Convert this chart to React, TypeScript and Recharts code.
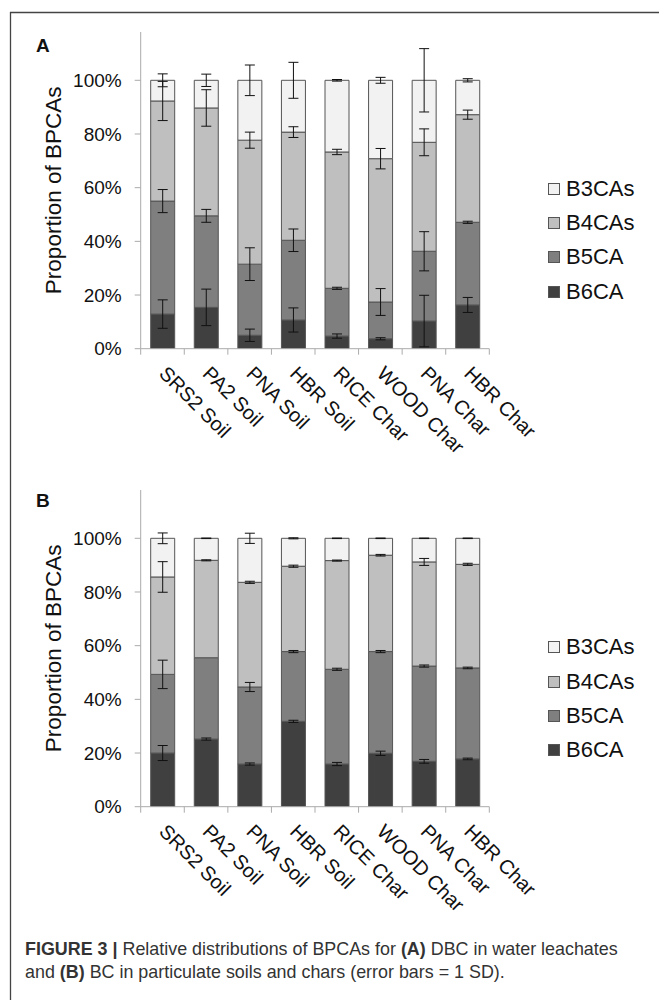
import React from 'react';
import { BarChart, Bar, XAxis, YAxis, ErrorBar, Legend, Label } from 'recharts';

// ---------- data ----------
const categories = ['SRS2 Soil', 'PA2 Soil', 'PNA Soil', 'HBR Soil', 'RICE Char', 'WOOD Char', 'PNA Char', 'HBR Char'];

// Panel A: DBC in water leachates (% of total BPCAs)
const aB6CA = [12.9, 15.4, 5.0, 10.7, 4.7, 3.7, 10.3, 16.3];
const aB5CA = [42.1, 34.1, 26.5, 29.7, 17.8, 13.7, 26.0, 30.8];
const aB4CAs = [37.3, 40.2, 46.2, 40.3, 50.8, 53.4, 40.6, 40.1];
const aB3CAs = [7.7, 10.3, 22.3, 19.3, 26.7, 29.2, 23.1, 12.8];
const aErrB6CA = [5.3, 6.8, 2.3, 4.5, 0.8, 0.4, 9.6, 2.8];
const aErrB5CA = [4.3, 2.4, 6.1, 4.2, 0.4, 5.0, 7.3, 0.4];
const aErrB4CAs = [7.3, 6.8, 3.0, 2.0, 1.0, 3.8, 5.0, 1.7];
const aErrB3CAs = [2.4, 2.3, 5.7, 6.7, 0.3, 1.1, 11.8, 0.6];

// Panel B: BC in particulate soils and chars
const bB6CA = [20.0, 25.2, 15.9, 31.8, 15.9, 19.9, 16.9, 17.8];
const bB5CA = [29.3, 30.3, 28.7, 26.0, 35.3, 37.9, 35.5, 33.9];
const bB4CAs = [36.3, 36.3, 39.0, 31.8, 40.5, 35.9, 38.8, 38.6];
const bB3CAs = [14.4, 8.2, 16.4, 10.4, 8.3, 6.3, 8.8, 9.7];
const bErrB6CA = [2.8, 0.4, 0.4, 0.4, 0.6, 0.8, 0.7, 0.3];
const bErrB5CA = [5.3, 0.0, 1.7, 0.4, 0.4, 0.4, 0.4, 0.3];
const bErrB4CAs = [5.7, 0.2, 0.4, 0.4, 0.2, 0.3, 1.3, 0.4];
const bErrB3CAs = [2.0, 0.1, 1.9, 0.2, 0.1, 0.1, 0.1, 0.1];

const yTicks = [0, 20, 40, 60, 80, 100];
const yLabelText = 'Proportion of BPCAs';

// ---------- styles ----------
const FONT = '"Liberation Sans", Arial, Helvetica, sans-serif';
const AXIS_GRAY = '#ababab';
const SERIES = [
  { key: 'B6CA', err: 'eB6', fill: '#404040' },
  { key: 'B5CA', err: 'eB5', fill: '#7f7f7f' },
  { key: 'B4CAs', err: 'eB4', fill: '#bfbfbf' },
  { key: 'B3CAs', err: 'eB3', fill: '#f2f2f2' },
];

function buildRows(b6: number[], b5: number[], b4: number[], b3: number[], e6: number[], e5: number[], e4: number[], e3: number[]) {
  return categories.map((name, i) => ({
    name,
    B6CA: b6[i], B5CA: b5[i], B4CAs: b4[i], B3CAs: b3[i],
    eB6: e6[i], eB5: e5[i], eB4: e4[i], eB3: e3[i],
  }));
}

const dataA = buildRows(aB6CA, aB5CA, aB4CAs, aB3CAs, aErrB6CA, aErrB5CA, aErrB4CAs, aErrB3CAs);
const dataB = buildRows(bB6CA, bB5CA, bB4CAs, bB3CAs, bErrB6CA, bErrB5CA, bErrB4CAs, bErrB3CAs);

// Category tick: rotated label + tick marks on the category boundaries (Excel style)
const XTick = (props: any) => {
  const { x, y, payload, index, width, visibleTicksCount } = props;
  const n = visibleTicksCount || categories.length;
  const half = width / n / 2;
  const ax = x - 4.5;
  const ay = y + 26;
  return (
    <g>
      <line x1={x - half} y1={y} x2={x - half} y2={y + 6} stroke={AXIS_GRAY} strokeWidth={1} />
      {index === n - 1 && <line x1={x + half} y1={y} x2={x + half} y2={y + 6} stroke={AXIS_GRAY} strokeWidth={1} />}
      <text x={ax} y={ay} transform={`rotate(45, ${ax}, ${ay})`} textAnchor="start" fontSize={20} fill="#111" fontFamily={FONT}>
        {payload.value}
      </text>
    </g>
  );
};

const renderLegend = (props: any) => {
  const items = [...(props.payload || [])].sort((a: any, b: any) => String(a.value).localeCompare(String(b.value)));
  return (
    <div style={{ fontFamily: FONT }}>
      {items.map((it: any) => (
        <div key={String(it.value)} style={{ display: 'flex', alignItems: 'center', height: 34.2 }}>
          <span style={{ display: 'inline-block', width: 10, height: 10, background: it.color, border: '1px solid #555', marginRight: 6 }} />
          <span style={{ fontSize: 22, lineHeight: '22px', color: '#111' }}>{it.value}</span>
        </div>
      ))}
    </div>
  );
};

const CHART_W = 659;
const CHART_H = 458;

function Panel({ data }: { data: any[] }) {
  return (
    <BarChart width={CHART_W} height={CHART_H} data={data} margin={{ top: 32, right: 169.7, bottom: 108.3, left: 0 }}>
      <XAxis dataKey="name" type="category" height={1} axisLine={{ stroke: AXIS_GRAY }} tickLine={false}
        tickSize={0} tickMargin={0} interval={0} tick={<XTick />} />
      <YAxis type="number" domain={[0, 118]} allowDataOverflow ticks={yTicks} width={140.7}
        tickFormatter={(v: number) => `${v}%`} axisLine={{ stroke: AXIS_GRAY }} tickLine={{ stroke: AXIS_GRAY }}
        tickSize={6} tickMargin={13} tick={{ fontSize: 19, fill: '#111', fontFamily: FONT }}>
        <Label value={yLabelText} angle={-90} position="center" dx={-17.4} style={{ fontSize: 22.5, fill: '#111', fontFamily: FONT }} />
      </YAxis>
      {SERIES.map((s) => (
        <Bar key={s.key} dataKey={s.key} stackId="s" fill={s.fill} stroke="#555" strokeWidth={1} barSize={24} isAnimationActive={false}>
          <ErrorBar dataKey={s.err} width={5} stroke="#111" strokeWidth={1} direction="y" />
        </Bar>
      ))}
      <Legend layout="vertical" align="center" verticalAlign="middle" content={renderLegend}
        wrapperStyle={{ left: 548, top: 172, width: 110 }} />
    </BarChart>
  );
}

export default function App() {
  return (
    <div style={{ position: 'absolute', left: 0, top: 0, width: 659, height: 1000, background: '#fff', fontFamily: FONT, overflow: 'hidden' }}>
      <svg width={659} height={1000} style={{ position: 'absolute', left: 0, top: 0 }}>
        <line x1={10} y1={12.5} x2={659} y2={12.5} stroke="#444" strokeWidth={1.3} />
        <line x1={10.5} y1={12} x2={10.5} y2={1000} stroke="#444" strokeWidth={1.3} />
        <text x={36} y={52} fontSize={19} fontWeight="bold" fill="#111" fontFamily={FONT}>A</text>
        <text x={36} y={507} fontSize={19} fontWeight="bold" fill="#111" fontFamily={FONT}>B</text>
        <text x={25} y={955} fontSize={17.9} fill="#333" fontFamily={FONT}>
          <tspan fontWeight="bold">FIGURE 3 |</tspan>
          <tspan> Relative distributions of BPCAs for </tspan>
          <tspan fontWeight="bold">(A)</tspan>
          <tspan> DBC in water leachates</tspan>
        </text>
        <text x={25} y={978} fontSize={17.9} fill="#333" fontFamily={FONT}>
          <tspan>and </tspan>
          <tspan fontWeight="bold">(B)</tspan>
          <tspan> BC in particulate soils and chars (error bars = 1 SD).</tspan>
        </text>
      </svg>
      <div style={{ position: 'absolute', left: 0, top: 0 }}>
        <Panel data={dataA} />
      </div>
      <div style={{ position: 'absolute', left: 0, top: 458.3 }}>
        <Panel data={dataB} />
      </div>
    </div>
  );
}
